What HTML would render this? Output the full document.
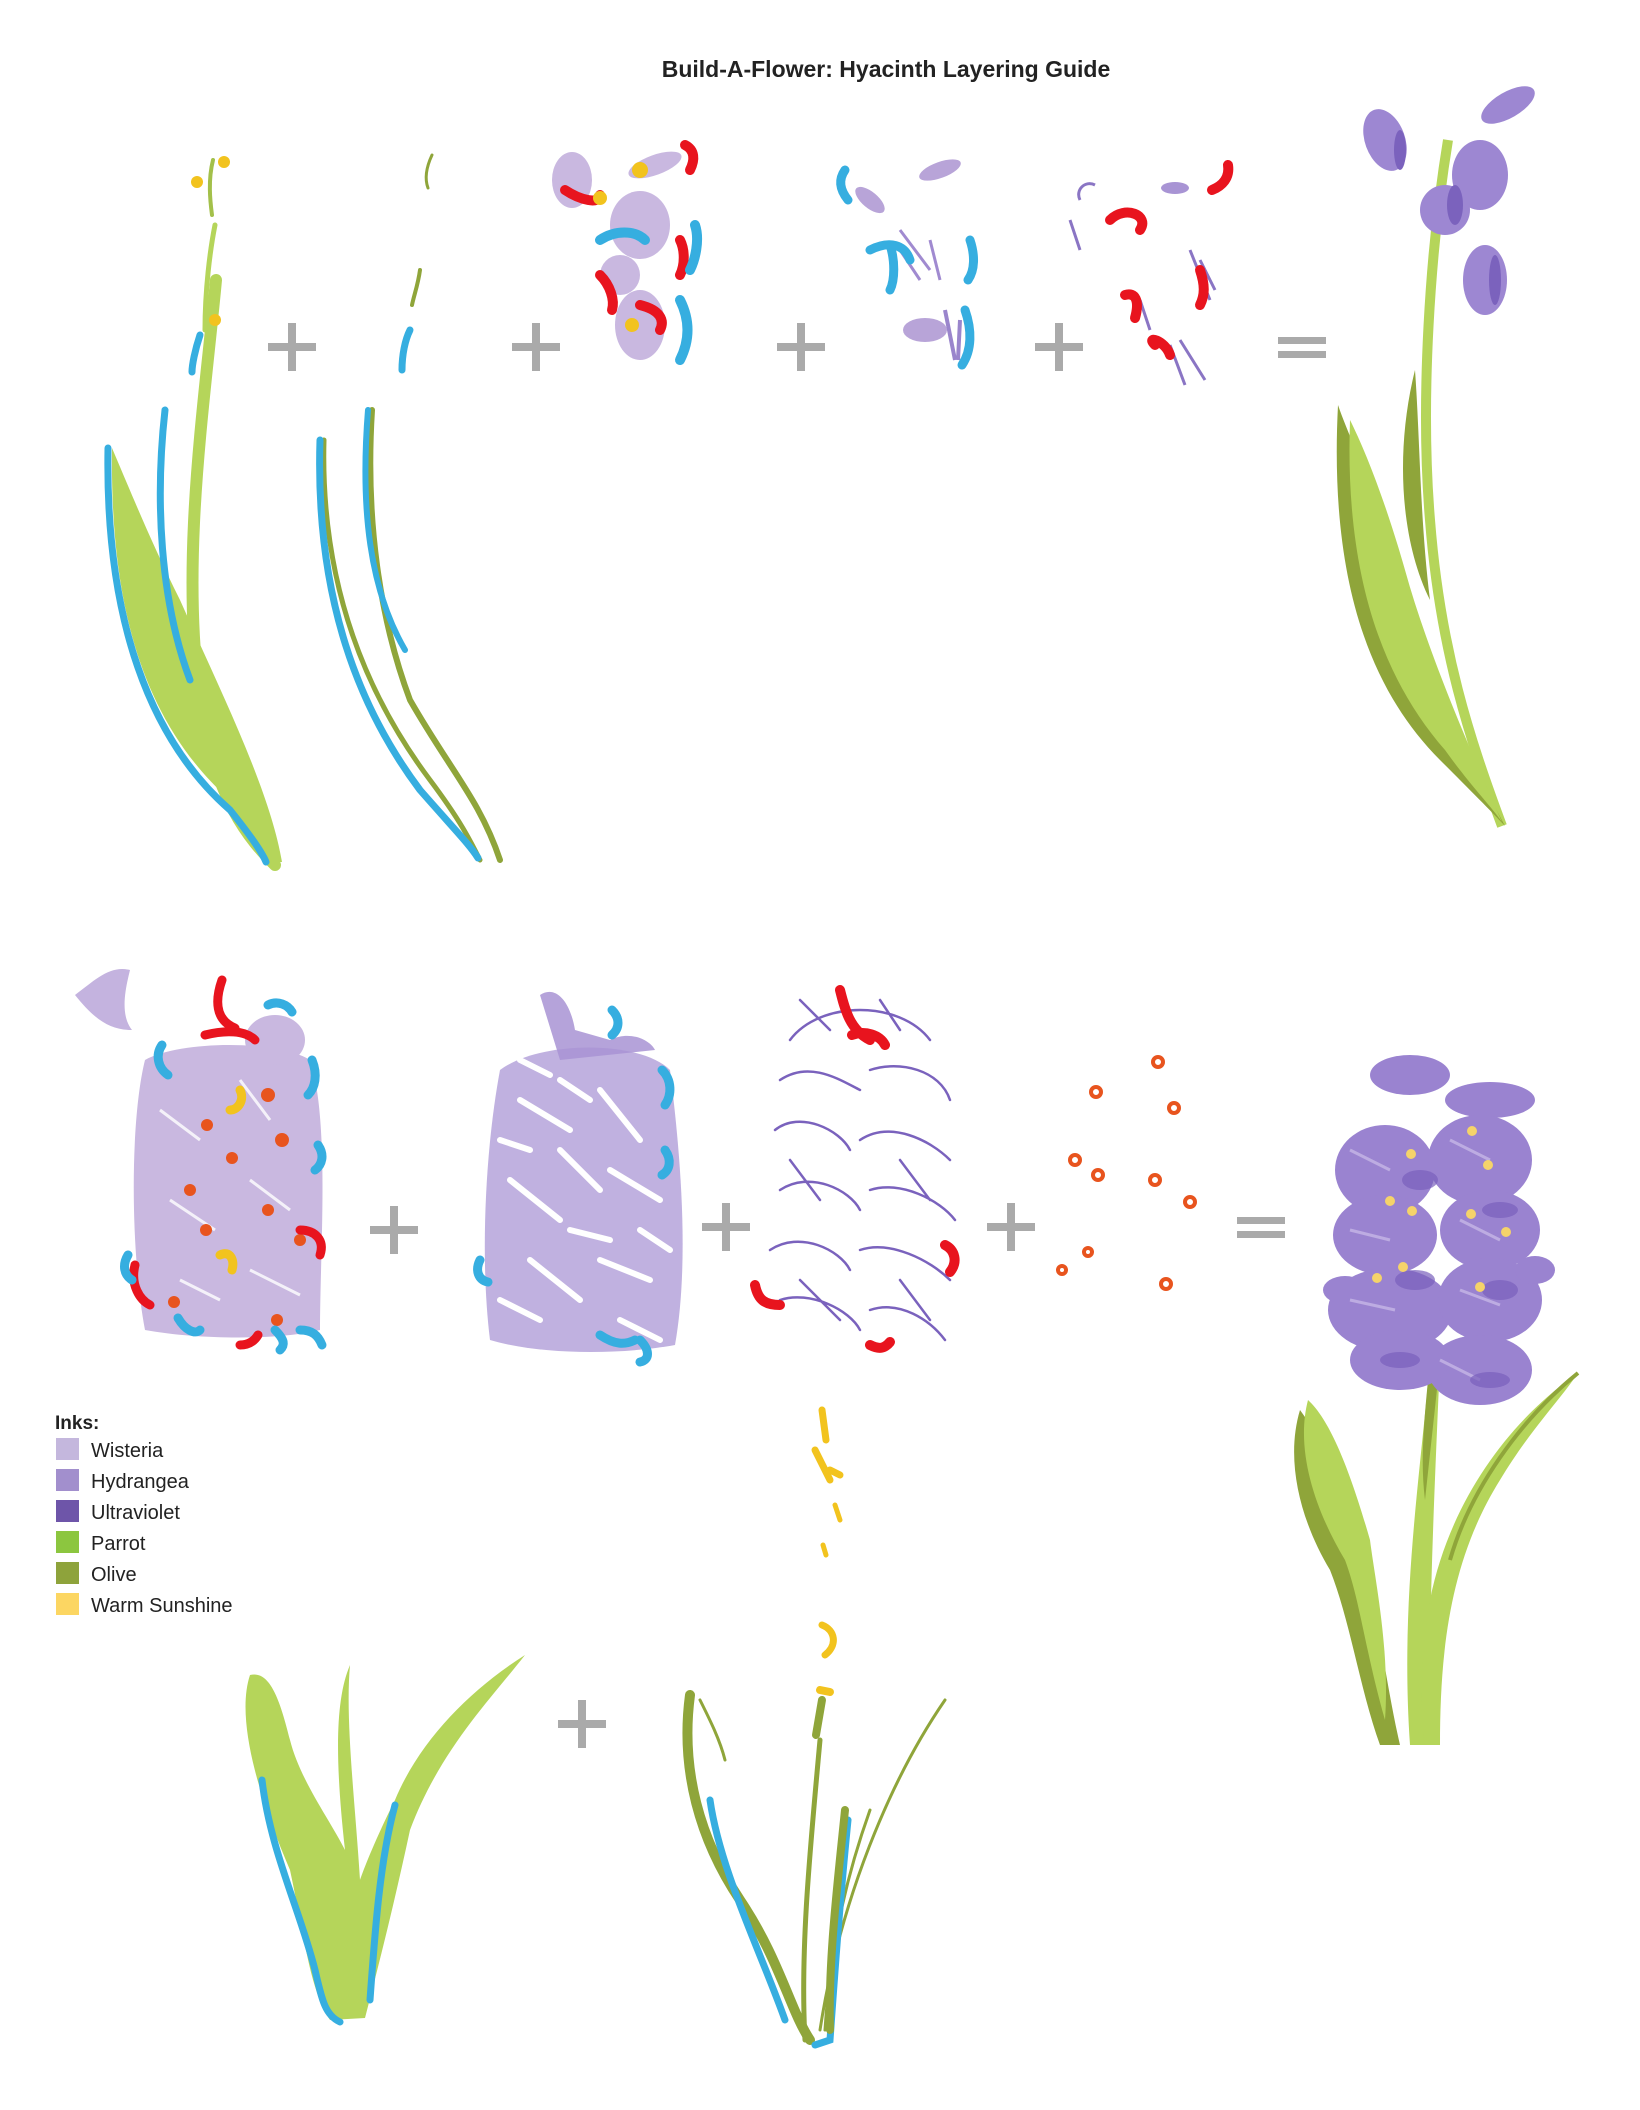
<!DOCTYPE html>
<html><head><meta charset="utf-8"><style>
html,body{margin:0;padding:0;background:#fff;}
body{width:1640px;height:2110px;position:relative;overflow:hidden;font-family:"Liberation Sans",sans-serif;}
svg{position:absolute;left:0;top:0;}
</style></head><body>
<svg width="1640" height="2110" viewBox="0 0 1640 2110" xmlns="http://www.w3.org/2000/svg">
<defs>
<g id="plus"><rect x="-24" y="-4" width="48" height="8" fill="#aaa"/><rect x="-4" y="-24" width="8" height="48" fill="#aaa"/></g>
<g id="eq"><rect x="-24" y="-10" width="48" height="7" fill="#aaa"/><rect x="-24" y="4" width="48" height="7" fill="#aaa"/></g>
</defs>
<text x="886" y="77" text-anchor="middle" font-family="Liberation Sans" font-weight="bold" font-size="23" fill="#222">Build-A-Flower: Hyacinth Layering Guide</text>

<use href="#plus" x="292" y="347"/><use href="#plus" x="536" y="347"/><use href="#plus" x="801" y="347"/><use href="#plus" x="1059" y="347"/><use href="#eq" x="1302" y="347"/>
<use href="#plus" x="394" y="1230"/><use href="#plus" x="726" y="1227"/><use href="#plus" x="1011" y="1227"/><use href="#eq" x="1261" y="1227"/><use href="#plus" x="582" y="1724"/>

<!-- Top row stem 1 -->
<g fill="none" stroke-linecap="round">
<path d="M216 280 C205 400 180 560 200 700 C215 800 250 840 275 865" stroke="#b5d55a" stroke-width="12"/>
<path d="M112 448 C110 600 140 720 230 800 C250 830 265 850 268 862 L282 862 C270 790 220 690 180 600 C150 540 130 490 112 448Z" fill="#b5d55a" stroke="none"/>
<path d="M108 448 C105 620 150 740 230 810 C250 835 262 852 266 862" stroke="#36aee0" stroke-width="7"/>
<path d="M165 410 C155 500 160 600 190 680" stroke="#36aee0" stroke-width="7"/>
<path d="M200 335 C195 350 192 365 192 372" stroke="#36aee0" stroke-width="7"/>
<path d="M205 330 C205 290 210 250 215 225" stroke="#b5d55a" stroke-width="5"/>
<path d="M213 160 C208 180 210 200 212 215" stroke="#a3c04a" stroke-width="4"/>
</g>
<circle cx="197" cy="182" r="6" fill="#f2c31e"/><circle cx="224" cy="162" r="6" fill="#f2c31e"/><circle cx="215" cy="320" r="6" fill="#f2c31e"/>
<!-- stem 2 -->
<g fill="none" stroke-linecap="round">
<path d="M372 410 C365 520 380 620 410 700 C450 770 480 800 500 860" stroke="#8fa53a" stroke-width="6"/>
<path d="M324 440 C320 590 370 700 430 780 C460 820 470 840 480 860" stroke="#8fa53a" stroke-width="5"/>
<path d="M320 440 C315 600 360 710 420 790 C455 830 470 845 478 858" stroke="#36aee0" stroke-width="7"/>
<path d="M368 410 C360 510 370 590 405 650" stroke="#36aee0" stroke-width="6"/>
<path d="M410 330 C405 340 402 355 402 370" stroke="#36aee0" stroke-width="7"/>
<path d="M420 270 C418 285 414 295 412 305" stroke="#8fa53a" stroke-width="4"/>
<path d="M432 155 C425 170 425 180 428 188" stroke="#8fa53a" stroke-width="3"/>
</g>
<!-- cluster 3 (top) -->
<g>
<ellipse cx="572" cy="180" rx="20" ry="28" fill="#c9b8e0"/>
<ellipse cx="655" cy="165" rx="28" ry="10" fill="#c9b8e0" transform="rotate(-20 655 165)"/>
<ellipse cx="640" cy="225" rx="30" ry="34" fill="#c9b8e0"/>
<ellipse cx="640" cy="325" rx="25" ry="35" fill="#c9b8e0"/>
<ellipse cx="620" cy="275" rx="20" ry="20" fill="#c9b8e0"/>
<g fill="none" stroke-linecap="round" stroke-width="10">
<path d="M565 190 C580 200 600 205 600 195" stroke="#e8141e"/>
<path d="M685 145 C695 150 695 160 690 170" stroke="#e8141e"/>
<path d="M680 240 C685 250 685 265 680 275" stroke="#e8141e"/>
<path d="M600 275 C610 285 615 300 612 310" stroke="#e8141e"/>
<path d="M640 305 C660 310 665 320 660 330" stroke="#e8141e"/>
<path d="M600 240 C615 230 635 230 645 240" stroke="#36aee0"/>
<path d="M695 225 C700 240 695 260 690 270" stroke="#36aee0"/>
<path d="M680 300 C690 320 690 340 680 360" stroke="#36aee0"/>
</g>
<circle cx="640" cy="170" r="8" fill="#f2c31e"/><circle cx="600" cy="198" r="7" fill="#f2c31e"/><circle cx="632" cy="325" r="7" fill="#f2c31e"/>
</g>
<!-- cluster 4 -->
<g>
<ellipse cx="940" cy="170" rx="22" ry="8" fill="#b8a4d8" transform="rotate(-20 940 170)"/>
<ellipse cx="870" cy="200" rx="18" ry="8" fill="#b8a4d8" transform="rotate(40 870 200)"/>
<path d="M900 230 L930 270 M900 250 L920 280 M930 240 L940 280" stroke="#a08ad0" stroke-width="3"/>
<ellipse cx="925" cy="330" rx="22" ry="12" fill="#b8a4d8"/>
<path d="M945 310 L955 360 M960 320 L958 360" stroke="#9a85cc" stroke-width="4"/>
<g fill="none" stroke="#36aee0" stroke-width="9" stroke-linecap="round">
<path d="M845 170 C838 180 840 190 848 200"/>
<path d="M870 250 C890 240 905 245 910 260"/><path d="M890 245 C895 260 895 280 890 290"/>
<path d="M970 240 C975 255 975 270 968 280"/>
<path d="M965 310 C972 330 972 350 962 365"/>
</g>
</g>
<!-- cluster 5 -->
<g>
<path d="M1080 200 C1075 190 1085 180 1095 185 M1070 220 L1080 250 M1200 260 L1215 290 M1190 250 L1210 300 M1140 300 L1150 330 M1180 340 L1205 380 M1170 345 L1185 385" stroke="#8a75c4" stroke-width="3" fill="none"/>
<ellipse cx="1175" cy="188" rx="14" ry="6" fill="#a894d4"/>
<g fill="none" stroke="#e8141e" stroke-width="10" stroke-linecap="round">
<path d="M1110 220 C1125 205 1150 215 1140 230"/>
<path d="M1228 165 C1230 178 1222 186 1212 190"/>
<path d="M1200 270 C1205 285 1205 295 1200 305"/>
<path d="M1125 295 C1135 292 1140 300 1135 318"/>
<path d="M1155 345 C1145 335 1165 340 1170 355"/>
</g>
</g>
<!-- Final flower top -->
<g>
<path d="M1448 140 C1430 250 1420 400 1430 520 C1440 650 1470 740 1502 826" stroke="#b5d55a" stroke-width="10" fill="none"/>
<path d="M1338 405 C1330 560 1360 680 1440 760 C1470 790 1490 810 1505 826 C1470 760 1420 650 1395 560 C1375 490 1350 440 1338 405Z" fill="#8fa53a"/>
<path d="M1350 420 C1345 560 1375 670 1445 750 C1470 785 1490 805 1502 822 C1475 760 1430 660 1405 570 C1385 500 1365 450 1350 420Z" fill="#b5d55a"/>
<path d="M1415 370 C1395 450 1400 540 1430 600 C1420 520 1420 440 1415 370Z" fill="#8fa53a"/>
<g fill="#9d87d2">
<ellipse cx="1385" cy="140" rx="20" ry="32" transform="rotate(-20 1385 140)"/>
<ellipse cx="1508" cy="105" rx="30" ry="13" transform="rotate(-30 1508 105)"/>
<ellipse cx="1480" cy="175" rx="28" ry="35"/>
<ellipse cx="1445" cy="210" rx="25" ry="25"/>
<ellipse cx="1485" cy="280" rx="22" ry="35"/>
</g>
<g fill="#7b62bd"><ellipse cx="1455" cy="205" rx="8" ry="20"/><ellipse cx="1495" cy="280" rx="6" ry="25"/><ellipse cx="1400" cy="150" rx="6" ry="20"/></g>
</g>

<!-- Row 2 cluster 1 -->
<g>
<path d="M75 995 C95 980 110 965 130 970 C125 990 120 1015 132 1030 C110 1030 95 1020 75 995Z" fill="#c4b3df"/>
<path d="M145 1060 C180 1040 280 1040 310 1060 C330 1120 320 1250 320 1330 C280 1340 200 1340 145 1330 C130 1250 130 1120 145 1060Z" fill="#c9b8e0"/>
<ellipse cx="275" cy="1040" rx="30" ry="25" fill="#c9b8e0"/>
<g stroke="#fff" stroke-width="3" fill="none" opacity="0.8">
<path d="M160 1110 L200 1140 M240 1080 L270 1120 M170 1200 L215 1230 M250 1180 L290 1210 M180 1280 L220 1300 M250 1270 L300 1295"/>
</g>
<g fill="#e8541e">
<circle cx="207" cy="1125" r="6"/><circle cx="268" cy="1095" r="7"/><circle cx="282" cy="1140" r="7"/><circle cx="190" cy="1190" r="6"/><circle cx="232" cy="1158" r="6"/><circle cx="206" cy="1230" r="6"/><circle cx="268" cy="1210" r="6"/><circle cx="174" cy="1302" r="6"/><circle cx="277" cy="1320" r="6"/><circle cx="300" cy="1240" r="6"/>
</g>
<g fill="none" stroke-linecap="round" stroke-width="9">
<path d="M222 980 C215 1000 215 1020 235 1028" stroke="#e8141e"/><path d="M205 1035 C225 1030 245 1030 255 1040" stroke="#e8141e"/>
<path d="M135 1265 C130 1285 140 1300 150 1305" stroke="#e8141e"/><path d="M300 1230 C315 1230 325 1240 320 1255" stroke="#e8141e"/>
<path d="M240 1345 C250 1345 255 1340 258 1335" stroke="#e8141e"/>
<path d="M162 1045 C155 1055 158 1068 168 1075" stroke="#36aee0"/><path d="M312 1060 C318 1075 315 1088 308 1095" stroke="#36aee0"/>
<path d="M318 1145 C325 1155 322 1165 315 1170" stroke="#36aee0"/><path d="M128 1255 C122 1265 124 1275 132 1280" stroke="#36aee0"/>
<path d="M300 1330 C312 1330 318 1335 322 1345" stroke="#36aee0"/><path d="M275 1330 C285 1340 285 1345 280 1350" stroke="#36aee0"/>
<path d="M178 1318 C185 1330 195 1335 200 1330" stroke="#36aee0"/><path d="M268 1005 C278 1000 288 1005 292 1012" stroke="#36aee0"/>
<path d="M240 1090 C245 1100 238 1110 230 1110" stroke="#f2c31e"/><path d="M220 1255 C230 1250 235 1260 232 1270" stroke="#f2c31e"/>
</g>
</g>
<!-- Row 2 cluster 2 -->
<g>
<path d="M500 1070 C540 1040 640 1040 670 1070 C680 1150 690 1260 675 1345 C620 1355 540 1355 490 1340 C480 1260 485 1150 500 1070Z" fill="#a893d4" opacity="0.72"/>
<path d="M540 995 C555 985 570 1000 575 1030 L610 1040 C630 1030 650 1040 655 1050 L560 1060 Z" fill="#a893d4" opacity="0.85"/>
<g stroke="#fff" stroke-width="6" fill="none" stroke-linecap="round">
<path d="M520 1100 L570 1130 M600 1090 L640 1140 M510 1180 L560 1220 M610 1170 L660 1200 M530 1260 L580 1300 M600 1260 L650 1280 M560 1150 L600 1190 M500 1300 L540 1320 M620 1320 L660 1340 M500 1140 L530 1150 M640 1230 L670 1250 M560 1080 L590 1100 M570 1230 L610 1240 M520 1060 L550 1075"/>
</g>
<g fill="none" stroke="#36aee0" stroke-width="9" stroke-linecap="round">
<path d="M612 1010 C620 1018 620 1028 612 1035"/><path d="M662 1070 C672 1080 672 1095 665 1105"/>
<path d="M665 1150 C672 1160 670 1170 662 1175"/><path d="M480 1260 C475 1270 478 1280 488 1282"/>
<path d="M640 1340 C650 1350 650 1360 640 1362"/><path d="M600 1335 C615 1345 625 1345 635 1340"/>
</g>
</g>
<!-- Row 2 cluster 3 -->
<g fill="none" stroke="#7a62bd" stroke-width="2.5" stroke-linecap="round">
<path d="M790 1040 C820 1000 900 1000 930 1040 M780 1080 C810 1060 840 1080 860 1090 M870 1070 C900 1060 940 1070 950 1100 M775 1130 C800 1110 840 1130 850 1150 M860 1140 C890 1120 930 1140 950 1160 M780 1190 C810 1170 850 1190 860 1210 M870 1190 C900 1180 940 1200 955 1220 M770 1250 C800 1230 840 1250 850 1270 M860 1250 C890 1240 930 1260 950 1280 M780 1300 C810 1290 850 1310 860 1330 M870 1310 C900 1300 930 1320 945 1340 M800 1000 L830 1030 M880 1000 L900 1030 M790 1160 L820 1200 M900 1160 L930 1200 M800 1280 L840 1320 M900 1280 L930 1320"/>
<path d="M840 990 C845 1010 850 1030 870 1040" stroke="#e8141e" stroke-width="10"/>
<path d="M852 1035 C865 1030 880 1035 885 1045" stroke="#e8141e" stroke-width="10"/>
<path d="M945 1245 C955 1250 958 1262 950 1272" stroke="#e8141e" stroke-width="10"/>
<path d="M755 1285 C758 1300 765 1305 780 1305" stroke="#e8141e" stroke-width="10"/>
<path d="M870 1345 C880 1350 885 1348 890 1342" stroke="#e8141e" stroke-width="10"/>
</g>
<!-- dots -->
<g fill="none" stroke="#e8541e" stroke-width="4">
<circle cx="1096" cy="1092" r="5"/><circle cx="1158" cy="1062" r="5"/><circle cx="1174" cy="1108" r="5"/><circle cx="1075" cy="1160" r="5"/><circle cx="1098" cy="1175" r="5"/><circle cx="1155" cy="1180" r="5"/><circle cx="1190" cy="1202" r="5"/><circle cx="1088" cy="1252" r="4"/><circle cx="1062" cy="1270" r="4"/><circle cx="1166" cy="1284" r="5"/>
</g>
<!-- bottom stamen stem -->
<g stroke-linecap="round">
<path d="M822 1410 L826 1440 M815 1450 L830 1480 M830 1470 L840 1475" stroke="#f2c31e" stroke-width="7"/>
<path d="M835 1505 L840 1520 M823 1545 L826 1555" stroke="#f2c31e" stroke-width="5"/>
<path d="M822 1625 C835 1630 838 1645 825 1655" stroke="#f2c31e" stroke-width="7" fill="none"/>
<path d="M820 1690 L830 1692" stroke="#f2c31e" stroke-width="8"/>
<path d="M822 1700 L816 1735" stroke="#8fa53a" stroke-width="8"/>
</g>
<!-- final flower bottom -->
<g>
<path d="M1300 1410 C1285 1460 1300 1520 1330 1570 C1350 1620 1360 1690 1380 1745 L1400 1745 C1385 1680 1380 1620 1360 1560 C1340 1500 1330 1450 1300 1410Z" fill="#8fa53a"/>
<path d="M1308 1400 C1295 1450 1315 1510 1345 1560 C1360 1600 1365 1650 1385 1720 C1390 1650 1375 1580 1370 1540 C1350 1470 1330 1420 1308 1400Z" fill="#b5d55a"/>
<path d="M1430 1360 C1420 1480 1400 1600 1410 1745 L1430 1745 C1428 1620 1435 1480 1440 1360Z" fill="#b5d55a"/>
<path d="M1430 1360 C1424 1420 1420 1460 1425 1500 L1438 1380Z" fill="#8fa53a"/>
<path d="M1578 1373 C1510 1420 1450 1500 1430 1600 C1420 1660 1420 1720 1425 1745 L1440 1745 C1440 1650 1450 1560 1500 1480 C1530 1430 1560 1400 1578 1373Z" fill="#b5d55a"/>
<path d="M1578 1373 C1520 1420 1470 1490 1450 1560" stroke="#8fa53a" stroke-width="4" fill="none"/>
<g fill="#9a83d0">
<ellipse cx="1410" cy="1075" rx="40" ry="20"/><ellipse cx="1490" cy="1100" rx="45" ry="18"/>
<ellipse cx="1385" cy="1170" rx="50" ry="45"/><ellipse cx="1480" cy="1160" rx="52" ry="45"/>
<ellipse cx="1385" cy="1235" rx="52" ry="40"/><ellipse cx="1490" cy="1230" rx="50" ry="40"/>
<ellipse cx="1390" cy="1310" rx="62" ry="42"/><ellipse cx="1490" cy="1300" rx="52" ry="42"/>
<ellipse cx="1480" cy="1370" rx="52" ry="35"/><ellipse cx="1400" cy="1360" rx="50" ry="30"/>
<ellipse cx="1345" cy="1290" rx="22" ry="14"/><ellipse cx="1535" cy="1270" rx="20" ry="14"/>
</g>
<g stroke="#c5b6e6" stroke-width="3" fill="none" opacity="0.8">
<path d="M1350 1150 L1390 1170 M1450 1140 L1490 1160 M1350 1230 L1390 1240 M1460 1220 L1500 1240 M1350 1300 L1395 1310 M1460 1290 L1500 1305 M1440 1360 L1480 1380"/>
</g>
<g fill="#7a60bd" opacity="0.7">
<ellipse cx="1420" cy="1180" rx="18" ry="10"/><ellipse cx="1500" cy="1210" rx="18" ry="8"/><ellipse cx="1415" cy="1280" rx="20" ry="10"/><ellipse cx="1500" cy="1290" rx="18" ry="10"/><ellipse cx="1400" cy="1360" rx="20" ry="8"/><ellipse cx="1490" cy="1380" rx="20" ry="8"/>
</g>
<g fill="#f5d36a"><circle cx="1411" cy="1154" r="5"/><circle cx="1472" cy="1131" r="5"/><circle cx="1488" cy="1165" r="5"/><circle cx="1390" cy="1201" r="5"/><circle cx="1412" cy="1211" r="5"/><circle cx="1471" cy="1214" r="5"/><circle cx="1506" cy="1232" r="5"/><circle cx="1403" cy="1267" r="5"/><circle cx="1377" cy="1278" r="5"/><circle cx="1480" cy="1287" r="5"/></g>
</g>
<!-- bottom leaves left -->
<g>
<path d="M250 1675 C235 1720 260 1800 290 1870 C305 1940 310 1990 330 2020 L365 2018 C380 1960 395 1900 410 1830 C440 1750 490 1700 525 1655 C470 1690 420 1740 395 1800 C370 1850 360 1880 360 1880 C355 1800 345 1720 350 1665 C335 1700 335 1760 345 1850 C330 1820 300 1780 290 1740 C280 1700 270 1670 250 1675Z" fill="#b5d55a"/>
<path d="M262 1780 C270 1850 300 1910 315 1970 C322 2000 325 2015 340 2022" stroke="#36aee0" stroke-width="7" fill="none" stroke-linecap="round"/>
<path d="M395 1805 C380 1860 375 1930 370 2000" stroke="#36aee0" stroke-width="7" fill="none" stroke-linecap="round"/>
</g>
<!-- bottom leaves right -->
<g fill="none" stroke-linecap="round">
<path d="M690 1695 C680 1770 700 1840 740 1900 C780 1960 790 2010 810 2040" stroke="#8fa53a" stroke-width="10"/>
<path d="M700 1700 C710 1720 720 1740 725 1760" stroke="#8fa53a" stroke-width="3"/>
<path d="M820 1740 C810 1850 800 1950 805 2040" stroke="#8fa53a" stroke-width="5"/>
<path d="M945 1700 C890 1780 840 1900 820 2030" stroke="#8fa53a" stroke-width="3"/>
<path d="M870 1810 C845 1880 830 1950 825 2030" stroke="#8fa53a" stroke-width="3"/>
<path d="M710 1800 C720 1870 760 1950 785 2020" stroke="#36aee0" stroke-width="7"/>
<path d="M848 1820 C840 1900 835 1970 830 2040 L815 2045" stroke="#36aee0" stroke-width="7"/>
<path d="M845 1810 C838 1880 828 1960 830 2030" stroke="#8fa53a" stroke-width="8"/>
</g>

<!-- legend -->
<text x="55" y="1429" font-family="Liberation Sans" font-weight="bold" font-size="19" fill="#222">Inks:</text>
<g font-family="Liberation Sans" font-size="20" fill="#222">
<rect x="56" y="1438" width="23" height="22" fill="#c4b7dd"/><text x="91" y="1457">Wisteria</text>
<rect x="56" y="1469" width="23" height="22" fill="#a28fcd"/><text x="91" y="1488">Hydrangea</text>
<rect x="56" y="1500" width="23" height="22" fill="#6e55a9"/><text x="91" y="1519">Ultraviolet</text>
<rect x="56" y="1531" width="23" height="22" fill="#8cc63f"/><text x="91" y="1550">Parrot</text>
<rect x="56" y="1562" width="23" height="22" fill="#8ea33b"/><text x="91" y="1581">Olive</text>
<rect x="56" y="1593" width="23" height="22" fill="#fcd662"/><text x="91" y="1612">Warm Sunshine</text>
</g>
</svg>
</body></html>
